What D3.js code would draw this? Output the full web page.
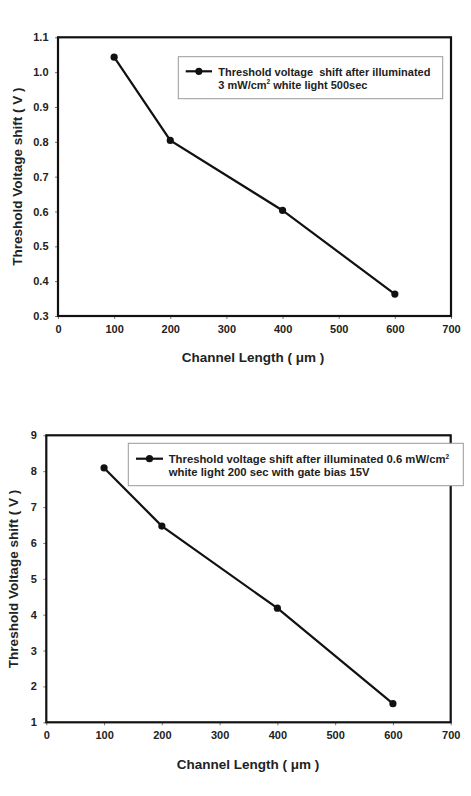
<!DOCTYPE html>
<html>
<head>
<meta charset="utf-8">
<script src="https://cdn.jsdelivr.net/npm/d3@7"></script>
<style>
  body { margin: 0; background: #fff; }
  svg text { font-family: "Liberation Sans", Arial, sans-serif; font-weight: bold; fill: #222; white-space: pre; }
</style>
</head>
<body>
<script>
// channel lengths (um)
const channelLength = [100, 200, 400, 600];
// threshold voltage shift (V)
const shiftTop = [1.043, 0.804, 0.603, 0.363];
const shiftBottom = [8.09, 6.47, 4.18, 1.52];

const xTicks = [0, 100, 200, 300, 400, 500, 600, 700];
const yTicksTop = [0.3, 0.4, 0.5, 0.6, 0.7, 0.8, 0.9, 1.0, 1.1];
const yTicksBottom = [1, 2, 3, 4, 5, 6, 7, 8, 9];

const legendTop = ["Threshold voltage  shift after illuminated", ["3 mW/cm", "2", " white light 500sec"]];
const legendBottom = [["Threshold voltage shift after illuminated 0.6 mW/cm", "2", ""], "white light 200 sec with gate bias 15V"];

const svg = d3.select("body").append("svg")
  .attr("width", 471)
  .attr("height", 796);

let drawPanel = function (cfg) {
  const x = d3.scaleLinear().domain([0, 700]).range([cfg.left, cfg.right]);
  const y = d3.scaleLinear().domain(cfg.yDomain).range([cfg.bottom, cfg.top]);
  const g = svg.append("g");

  g.append("g")
    .attr("transform", `translate(0,${cfg.bottom})`)
    .call(d3.axisBottom(x).tickValues(xTicks).tickSize(3).tickSizeOuter(0).tickPadding(6))
    .call(a => a.select(".domain").remove())
    .call(a => a.selectAll("line").attr("stroke", "#777").attr("stroke-width", 1))
    .call(a => a.selectAll("text").attr("font-size", 11).attr("fill", "#222"));

  g.append("g")
    .attr("transform", `translate(${cfg.left},0)`)
    .call(d3.axisLeft(y).tickValues(cfg.yTicks).tickFormat(d3.format(cfg.fmt)).tickSize(3).tickSizeOuter(0).tickPadding(6.5))
    .call(a => a.select(".domain").remove())
    .call(a => a.selectAll("line").attr("stroke", "#777").attr("stroke-width", 1))
    .call(a => a.selectAll("text").attr("font-size", 11).attr("fill", "#222"));

  // plot frame
  g.append("rect")
    .attr("x", cfg.left).attr("y", cfg.top)
    .attr("width", cfg.right - cfg.left).attr("height", cfg.bottom - cfg.top)
    .attr("fill", "none").attr("stroke", "#111").attr("stroke-width", 2.2);

  const pts = channelLength.map((c, i) => [c, cfg.values[i]]);
  g.append("path")
    .datum(pts)
    .attr("d", d3.line().x(d => x(d[0])).y(d => y(d[1])))
    .attr("fill", "none").attr("stroke", "#111").attr("stroke-width", 2.2);

  g.selectAll(".pt")
    .data(pts)
    .enter()
    .append("circle")
    .attr("cx", d => x(d[0])).attr("cy", d => y(d[1]))
    .attr("r", 3.6).attr("fill", "#111");

  // legend
  const lb = cfg.legend;
  g.append("rect")
    .attr("x", lb.x0).attr("y", lb.y0)
    .attr("width", lb.x1 - lb.x0).attr("height", lb.y1 - lb.y0)
    .attr("fill", "#fff").attr("stroke", "#999").attr("stroke-width", 1);
  g.append("line")
    .attr("x1", lb.lx0).attr("x2", lb.lx1).attr("y1", lb.ly).attr("y2", lb.ly)
    .attr("stroke", "#111").attr("stroke-width", 2.2);
  g.append("circle")
    .attr("cx", (lb.lx0 + lb.lx1) / 2).attr("cy", lb.ly).attr("r", 3.6).attr("fill", "#111");

  cfg.legendText.forEach((ln, i) => {
    const t = g.append("text")
      .attr("x", lb.tx).attr("y", lb.ty + i * 13)
      .attr("font-size", cfg.legendSize);
    if (typeof ln === "string") {
      t.text(ln);
    } else {
      t.append("tspan").text(ln[0]);
      t.append("tspan").text(ln[1]).attr("font-size", 6.5).attr("dy", -4.5);
      t.append("tspan").text(ln[2]).attr("dy", 4.5);
    }
  });

  // axis titles
  g.append("text")
    .attr("transform", `translate(${cfg.yTitleX},${cfg.yTitleY}) rotate(-90)`)
    .attr("text-anchor", "middle")
    .attr("font-size", 13.5)
    .text("Threshold Voltage shift ( V )");

  g.append("text")
    .attr("x", cfg.xTitleX).attr("y", cfg.xTitleY)
    .attr("text-anchor", "middle")
    .attr("font-size", 13.5)
    .text("Channel Length ( \u03bcm )");
};

drawPanel({
  left: 58, right: 451, top: 37.3, bottom: 316,
  yDomain: [0.3, 1.1], yTicks: yTicksTop, fmt: ".1f",
  values: shiftTop,
  legend: { x0: 178.3, x1: 442.7, y0: 56.7, y1: 98.7, lx0: 185.7, lx1: 212, ly: 71.3, tx: 218.3, ty: 75.5 },
  legendText: legendTop, legendSize: 11,
  yTitleX: 21.5, yTitleY: 176.7, xTitleX: 253, xTitleY: 362
});

drawPanel({
  left: 46.3, right: 450.7, top: 435.3, bottom: 722.3,
  yDomain: [1, 9], yTicks: yTicksBottom, fmt: "d",
  values: shiftBottom,
  legend: { x0: 128.3, x1: 463.3, y0: 443.3, y1: 485.7, lx0: 136, lx1: 163, ly: 458.7, tx: 168.7, ty: 463 },
  legendText: legendBottom, legendSize: 11.3,
  yTitleX: 17.5, yTitleY: 579, xTitleX: 248, xTitleY: 769
});
</script>
</body>
</html>
